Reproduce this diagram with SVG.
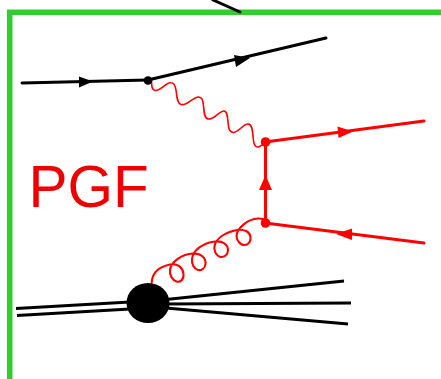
<svg xmlns="http://www.w3.org/2000/svg" width="441" height="379" viewBox="0 0 441 379">
<style>
.k{stroke:#000;fill:none;stroke-width:3;stroke-linecap:round}
.kt{stroke:#000;fill:none;stroke-width:2.8}
.r{stroke:#f00;fill:none;stroke-width:3;stroke-linecap:round}
.rp{stroke:#f00;fill:none;stroke-width:1.6;stroke-linecap:round}
.rg{stroke:#f00;fill:none;stroke-width:2.1;stroke-linecap:round}
.ka{fill:#000}
.ra{fill:#f00}
</style>
<rect width="441" height="379" fill="#fff"/>
<g id="frame"><path d="M441 12.200H9.700V379" fill="none" stroke="#33cc33" stroke-width="5.600"/></g>
<g id="connectors">
<path class="k" d="M213 0L240 12"/>
<path class="k" d="M22 83L148 80"/>
<path class="k" d="M148 80L326 38"/>
<path class="ka" d="M79 76.500L93 81.500L79 87.500Z"/>
<path class="ka" d="M234 55L250 58L236 67Z"/>
<path class="rp" d="M151.500 81C151.500 87 152 90 155 90.500C160 91 165 84 169 83C174 82 175 85 176 90C177 97 177 103 181 104.500C187 106 192 98 198 97C202 96.500 203 100 203.500 106C204 113 204.500 118 208 119C214 120 219 111 224 111C227 111 227.500 116 228 122C228.500 128 229 132 233 132.500C238 133 243 124 248 124C252 124 252.500 130 253 136C253.500 142 254 147 258 147C260 147 262 145 264 143"/>
<path class="rg" d="M151.700 283C152 274 158 267 170 264.500C178 263 183 268 183.500 274C184 280 180 282.500 176.500 281.500C172 280 169.500 275 170 270C171 262 182 254 193 253.500C201 253 206 258 205.500 264C205 269 201 270.500 198 270C194 269 191.500 264 192 259C193 250 203 243 215 241.500C223 240.500 228 245 228 250C228 255 224 257.500 220.500 257C216 256 213.500 250 214.500 246C216 238 226 232 237 230C245 229 250 232 250.500 237C251 242 248 245 244.500 245C240 245 236.500 240 236.500 236C237 228 248 219 258 218.500C261 218.400 263 219 265 219.500"/>
<path class="r" d="M265 142L424 121"/>
<path class="r" d="M265 223L424 243"/>
<path class="r" d="M265.500 142V223"/>
<path class="ra" d="M337.500 126.500L353 131.500L338.500 138Z"/>
<path class="ra" d="M352 228.500L336 234L352 240Z"/>
<path class="ra" d="M265.500 175L272 190H259Z"/>
<path class="kt" d="M16 308.500L130 302"/>
<path class="kt" d="M17 315.500L130 309"/>
<path class="kt" d="M166 299.500L344 281"/>
<path class="kt" d="M166 304L351 303"/>
<path class="kt" d="M166 308L348 324"/>
</g>
<g id="vertex-top"><circle class="ka" cx="148" cy="80.500" r="4.300"/></g>
<g id="vertex-right-top"><circle class="ra" cx="265.500" cy="142" r="4.800"/></g>
<g id="vertex-right-bottom"><circle class="ra" cx="265.500" cy="223" r="4.800"/></g>
<g id="proton-blob"><ellipse class="ka" cx="148" cy="303" rx="21.500" ry="20"/></g>
<g id="label-pgf"><text x="28.500" y="207" font-family="'Liberation Sans',Arial,sans-serif" font-size="58.500" fill="#ee0000">PGF</text></g>
</svg>
